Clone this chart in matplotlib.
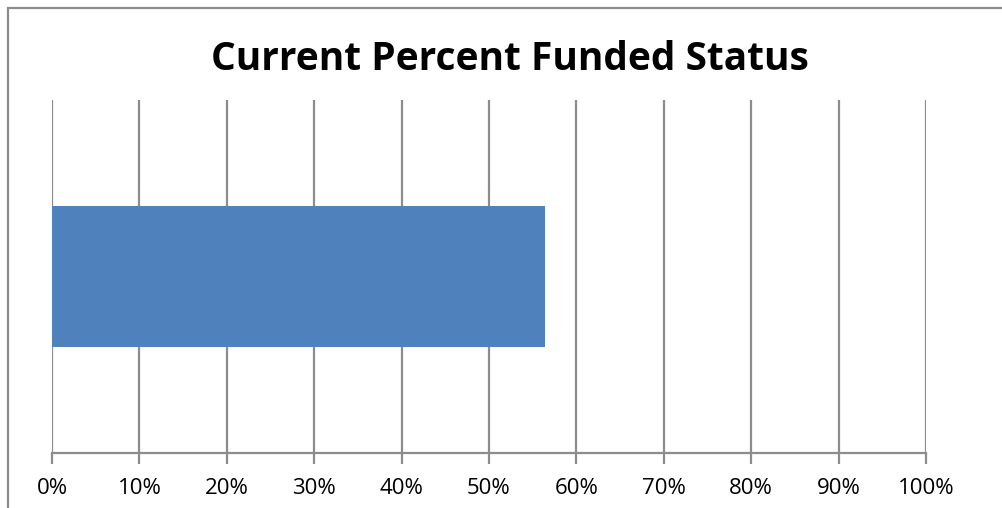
import matplotlib.pyplot as plt
from matplotlib.ticker import PercentFormatter
from matplotlib.patches import Rectangle

# Chart data
categories = ['Funded']
funded_pct = [0.564]
tick_values = [i / 10 for i in range(11)]

fig = plt.figure(figsize=(10.02, 5.08), dpi=100)
W, H = 1002, 508

# outer chart frame (only left and top edges are visible in the picture)
fig.patches.append(Rectangle((8 / W, -0.1), 1.2, (508 - 8) / H + 0.1,
                             transform=fig.transFigure, fill=False,
                             edgecolor='#8c8c8c', linewidth=1.6))

ax = fig.add_axes([52 / W, (H - 453) / H, (926 - 52) / W, (453 - 100) / H])

ax.barh(categories, funded_pct, height=0.4, color='#4F81BD', zorder=3)

ax.set_xlim(0, 1)
ax.set_ylim(-0.5, 0.5)
ax.set_xticks(tick_values)
ax.xaxis.set_major_formatter(PercentFormatter(1.0, decimals=0))
ax.set_yticks([])

ax.grid(axis='x', color='#8c8c8c', linewidth=1.6, zorder=0)
for side in ['top', 'right', 'left']:
    ax.spines[side].set_visible(False)
ax.spines['bottom'].set_color('#8c8c8c')
ax.spines['bottom'].set_linewidth(1.6)
ax.tick_params(axis='x', length=8, width=1.6, color='#8c8c8c', pad=10,
               labelsize=16)
for lbl in ax.get_xticklabels():
    lbl.set_family('Open Sans')

fig.text(510 / W, 1 - 60 / H, 'Current Percent Funded Status',
         ha='center', va='center', fontsize=28, fontweight='bold',
         family='Open Sans')

fig.savefig('out.png', dpi=100)
